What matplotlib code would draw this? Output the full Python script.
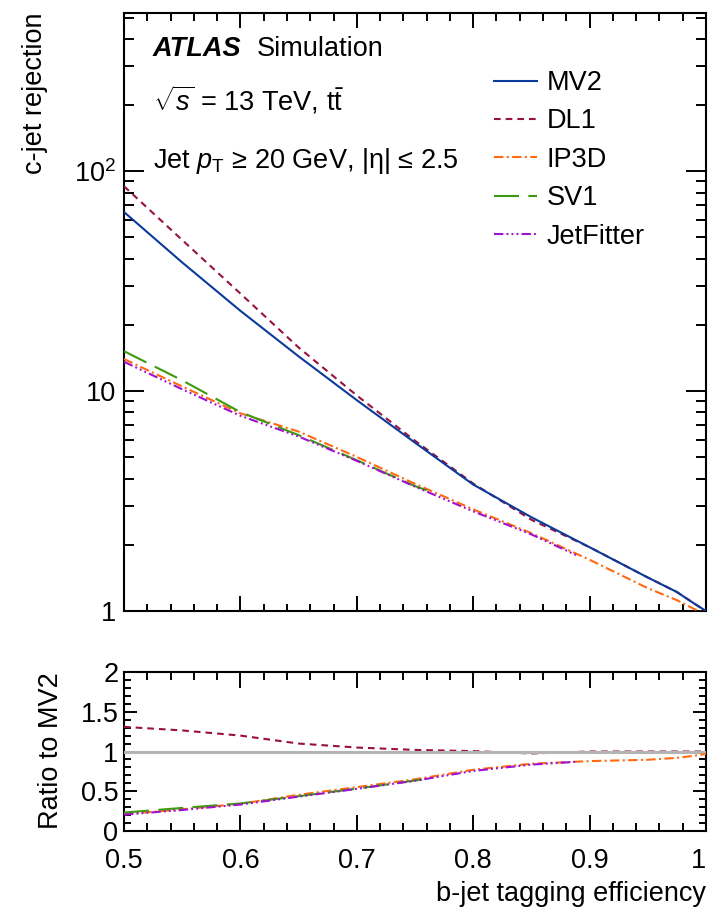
import matplotlib
matplotlib.use('Agg')
import matplotlib.pyplot as plt
import numpy as np
from matplotlib.ticker import (FixedLocator, MultipleLocator, FixedFormatter,
                               NullFormatter, LogLocator, FuncFormatter)

plt.rcParams['font.family'] = ['Liberation Sans', 'DejaVu Sans']
plt.rcParams['mathtext.fontset'] = 'custom'
plt.rcParams['mathtext.rm'] = 'Liberation Sans'
plt.rcParams['mathtext.it'] = 'Liberation Sans:italic'
plt.rcParams['mathtext.bf'] = 'Liberation Sans:bold'

# ---------------- data ----------------
eff = [0.50, 0.55, 0.60, 0.65, 0.70, 0.75, 0.80, 0.85, 0.90, 0.95, 0.975, 0.99, 1.00]
rej_mv2 = [65.3, 38.5, 23.2, 14.4, 9.1, 5.83, 3.76, 2.67, 1.95, 1.42, 1.22, 1.08, 1.00]
rej_dl1 = [85.5, 48.7, 27.8, 15.8, 9.56, 5.95, 3.80, 2.60, 1.95, 1.42, 1.22, 1.08, 1.00]
rej_ip3d = [14.0, 10.5, 7.93, 6.55, 5.02, 3.79, 2.90, 2.26, 1.71, 1.27, 1.12, 1.02, 0.97]

eff_sv1 = [0.50, 0.55, 0.60, 0.65, 0.70, 0.75, 0.76]
rej_sv1 = [15.2, 11.2, 8.03, 6.31, 4.85, 3.70, 3.54]

eff_jf = [0.50, 0.55, 0.60, 0.65, 0.70, 0.75, 0.80, 0.85, 0.89]
rej_jf = [13.6, 10.2, 7.73, 6.22, 4.82, 3.68, 2.84, 2.23, 1.78]

# ratio to MV2 (lower panel)
ratio_dl1 = [1.31, 1.265, 1.20, 1.10, 1.05, 1.02, 1.005, 0.975, 1.00, 1.00, 1.00, 1.00, 1.00]
ratio_ip3d = [0.212, 0.273, 0.342, 0.455, 0.552, 0.65, 0.77, 0.846, 0.879, 0.896, 0.92, 0.946, 0.97]
ratio_sv1 = [0.232, 0.29, 0.346, 0.438, 0.533, 0.635, 0.655]
ratio_jf = [0.206, 0.264, 0.333, 0.432, 0.53, 0.632, 0.755, 0.835, 0.872]

labels = ['MV2', 'DL1', 'IP3D', 'SV1', 'JetFitter']
colors = {'MV2': '#0b3a9a', 'DL1': '#99113f', 'IP3D': '#ff6a10',
          'SV1': '#3c9a10', 'JetFitter': '#a010d0'}
dashes = {'MV2': None, 'DL1': (3.2, 2.4), 'IP3D': (4.5, 1.6, 1.0, 1.6),
          'SV1': (12, 4.5), 'JetFitter': (4.5, 1.5, 0.9, 1.5, 0.9, 1.5, 0.9, 1.5)}

FS = 19.5
LW = 1.5

fig = plt.figure(figsize=(7.1, 9.1), dpi=100)
ax = fig.add_axes([124/710, 1-611/910, 582/710, 598/910])
axr = fig.add_axes([124/710, 1-831/910, 582/710, 159/910])


def style(name):
    kw = dict(color=colors[name], lw=LW, label=name)
    if dashes[name] is not None:
        kw['dashes'] = dashes[name]
    return kw

# main panel
h = {}
h['DL1'], = ax.plot(eff, rej_dl1, **style('DL1'), zorder=3)
h['IP3D'], = ax.plot(eff, rej_ip3d, **style('IP3D'), zorder=3)
h['SV1'], = ax.plot(eff_sv1, rej_sv1, **style('SV1'), zorder=3)
h['JetFitter'], = ax.plot(eff_jf, rej_jf, **style('JetFitter'), zorder=3)
h['MV2'], = ax.plot(eff, rej_mv2, **style('MV2'), zorder=4)

ax.set_yscale('log')
ax.set_xlim(0.5, 1.0)
ax.set_ylim(1, 525)
ax.yaxis.set_major_locator(FixedLocator([1, 10, 100]))
ax.yaxis.set_major_formatter(FixedFormatter(['1', '10', r'$10^{2}$']))
ax.yaxis.set_minor_locator(LogLocator(base=10, subs=np.arange(2, 10), numticks=20))
ax.yaxis.set_minor_formatter(NullFormatter())
ax.xaxis.set_major_locator(MultipleLocator(0.1))
ax.xaxis.set_minor_locator(MultipleLocator(0.02))
ax.tick_params(which='both', direction='in', top=True, right=True,
               labelbottom=False, width=1.4, labelsize=FS, pad=6)
ax.tick_params(axis='x', which='major', length=10.8)
ax.tick_params(axis='x', which='minor', length=5.4)
ax.tick_params(axis='y', which='major', length=14.4)
ax.tick_params(axis='y', which='minor', length=7.2)
for s in ax.spines.values():
    s.set_linewidth(1.5)

ax.set_ylabel('c-jet rejection', fontsize=FS, loc='top')
ax.yaxis.set_label_coords((48-124)/582, 1.0)

ax.legend([h[n] for n in labels], labels, loc='upper left',
          bbox_to_anchor=(494/710, 1-70/910), bbox_transform=fig.transFigure,
          frameon=False, fontsize=FS, handlelength=1.6, handletextpad=0.35,
          labelspacing=0.46, borderpad=0, borderaxespad=0)

fig.text(153/710, 1-56/910, 'ATLAS', fontsize=FS, fontweight='bold',
         fontstyle='italic', va='baseline', ha='left')
fig.text(257/710, 1-56/910, 'Simulation', fontsize=FS, va='baseline', ha='left')
fig.text(153/710, 1-110/910, r'$\sqrt{s}$ = 13 TeV, t$\bar{\mathrm{t}}$', fontsize=FS,
         va='baseline', ha='left')
fig.text(153/710, 1-168/910, r'Jet $p_{\mathrm{T}}$ ≥ 20 GeV, |η| ≤ 2.5', fontsize=FS,
         va='baseline', ha='left')

# ratio panel
axr.plot(eff, ratio_dl1, **style('DL1'), zorder=3)
axr.axhline(1.0, color='#b4b4b4', lw=2.2, zorder=4)
axr.plot(eff, ratio_ip3d, **style('IP3D'), zorder=5)
axr.plot(eff_sv1, ratio_sv1, **style('SV1'), zorder=5)
axr.plot(eff_jf, ratio_jf, **style('JetFitter'), zorder=5)

axr.set_xlim(0.5, 1.0)
axr.set_ylim(0, 2)
axr.xaxis.set_major_locator(MultipleLocator(0.1))
axr.xaxis.set_minor_locator(MultipleLocator(0.02))
axr.yaxis.set_major_locator(MultipleLocator(0.5))
axr.yaxis.set_minor_locator(MultipleLocator(0.1))
fmt = FuncFormatter(lambda v, p: f'{v:g}')
axr.xaxis.set_major_formatter(fmt)
axr.yaxis.set_major_formatter(fmt)
axr.tick_params(which='both', direction='in', top=True, right=True,
                width=1.4, labelsize=FS)
axr.tick_params(axis='x', which='major', length=11.5, pad=12)
axr.tick_params(axis='x', which='minor', length=5.8)
axr.tick_params(axis='y', which='major', length=9.4, pad=4)
axr.tick_params(axis='y', which='minor', length=5)
for s in axr.spines.values():
    s.set_linewidth(1.5)

axr.set_ylabel('Ratio to MV2', fontsize=FS, loc='top')
axr.yaxis.set_label_coords((64-124)/582, 1.0)
axr.set_xlabel('b-jet tagging efficiency', fontsize=FS, loc='right', labelpad=5)

fig.canvas.draw()
last = [t for t in axr.get_xticklabels() if t.get_text() == '1']
for t in last:
    t.set_horizontalalignment('right')

fig.savefig('out.png', dpi=100)
